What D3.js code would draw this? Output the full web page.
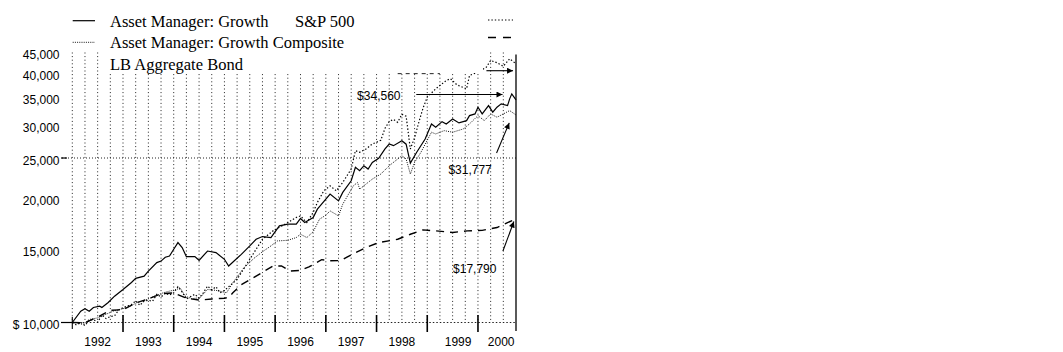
<!DOCTYPE html>
<html>
<head>
<meta charset="utf-8">
<script src="https://cdn.jsdelivr.net/npm/d3@7"></script>
<style>
  body { margin: 0; background: #fff; }
  text { fill: #000; }
</style>
</head>
<body>
<script>
// months counted from the start (Dec 1991 = 0) and value of $10,000
const growth = [[0,10000],[2,10650],[3,10800],[4,10650],[5,10870],[6.5,10950],[7,10870],[8.5,11180],[10,11580],[12,12020],[14,12500],[15,12790],[17,12950],[18,13320],[20,13960],[21,14080],[22,14380],[23,14480],[24,15040],[25,15610],[26,15180],[27,14430],[29,14430],[30,14140],[32,14890],[34,14760],[36,14220],[37,13700],[40,14620],[42,15320],[43.5,15900],[45,16140],[47,16050],[49,17130],[51,17290],[53,17290],[54,17850],[55,17450],[57,17950],[58,18800],[60,19880],[61,20450],[63,19690],[64,20640],[66,22020],[67,23730],[68,23290],[69,23950],[70,23510],[71,24400],[72.5,24960],[74,26290],[75,27030],[76,26780],[78,27530],[79,27000],[80,24300],[81.5,25810],[83.5,27800],[85,30230],[86,29680],[87.5,30620],[88.5,30230],[90,31080],[91.5,30400],[93.3,30790],[94,31660],[95.3,31960],[96,33180],[97,31960],[98.5,33480],[99.5,32270],[100.5,33180],[101.5,33800],[103,33480],[103.5,34760],[104,35740],[105,34560]];
const composite = [[0,10000],[1,9980],[2.5,9890],[4,10170],[6,10260],[7.3,10400],[9.7,10650],[12,10800],[13.7,10950],[15.2,11160],[17.6,11370],[20,11630],[21.5,11800],[23,11910],[24.7,12020],[25.5,12140],[26.7,11580],[28.3,11420],[30.2,11480],[32,12020],[34,11960],[36.5,11800],[38,12480],[40.5,13520],[43,14300],[45,14830],[47,15320],[48.5,15750],[51,15810],[53,16050],[54,16350],[55.5,16050],[57,16580],[58.5,17780],[60,18180],[61,18620],[63,18110],[64,19330],[66.5,21410],[67.5,21820],[68,21020],[69.5,21620],[71,22230],[73,22860],[75,23950],[77,24860],[78,25320],[79,24860],[80,22860],[81,24400],[82.5,25810],[85,28860],[86,28590],[88,29120],[90,28860],[92.5,29390],[94,30230],[96,31660],[97.5,30790],[99,31960],[100.5,31380],[102,31960],[103.5,32560],[105,31777]];
const sp500 = [[0,10000],[1,9860],[2,10010],[3,9830],[4,10120],[5,10170],[6,10020],[7,10430],[8,10220],[9,10340],[10,10380],[11,10730],[12,10860],[14,11050],[15,11280],[16,11000],[17,11270],[18,11320],[19,11260],[20,11700],[21,11530],[22,11780],[23,11650],[24,11800],[25,12200],[26,11850],[27,11400],[28,11550],[29,11700],[30,11450],[31,11800],[32,12250],[33,12000],[34,12200],[35,11800],[36,11950],[39,12720],[41,13700],[43,14760],[45,15900],[47.5,16660],[51,17450],[53,17950],[54,18110],[55.5,17450],[57,18460],[58,19520],[59.5,20820],[61,21410],[62.5,20820],[64,21820],[66,23510],[67,26040],[68,25810],[69.5,26290],[71,27030],[72,27290],[73,27600],[74,29500],[75,30640],[76,31000],[77,30500],[78,31900],[79,31550],[80,26290],[81,28000],[82,30500],[83,33000],[84,35100],[86,36760],[88.5,38500],[89.5,38890],[91,37590],[93.3,36760],[94,39590],[96,40350],[98,41490],[99,43050],[100.5,42500],[102,41680],[103.5,43460],[105,42260]];
const bond = [[0,10000],[3,9990],[6,10300],[9,10700],[12,10740],[15,11150],[18,11400],[21,11740],[24,11790],[27,11450],[30,11330],[33,11400],[36,11450],[37,11500],[38,11800],[40,12350],[43,12860],[45.5,13320],[47.5,13700],[49.5,13700],[51.5,13320],[54,13370],[56,13630],[59,14190],[61,14100],[63.5,14120],[65,14400],[67,14760],[69.5,15180],[72.5,15610],[77,15900],[80,16350],[83,16750],[86,16660],[90,16510],[93.5,16660],[97,16710],[100.5,16970],[103,17450],[105,17790]];

// axes
const yTicks = [10000, 15000, 20000, 25000, 30000, 35000, 40000, 45000];
const years = ['1992','1993','1994','1995','1996','1997','1998','1999','2000'];
const yearLabelAt = [6, 18, 30, 42, 54, 66, 78, 91.3, 101.5];
const yearEnds = [0, 12, 24, 36, 48, 60, 72, 84, 96];
const lastMonth = 105;

// callouts: [text, text month, text value, arrow from [m,v], arrow to [m,v]]
const callouts = [
  ['$34,560', 67.4, 35300, [81.4, 35600], [101.8, 35600]],
  ['', 0, 0, [98, 40660], [104.3, 40660]],
  ['$31,777', 89, 23390, [100.4, 25710], [103.4, 30400]],
  ['$17,790', 90.1, 13470, [101.9, 14890], [104.5, 17550]]
];

const svg = d3.select('body')
  .append('svg')
  .attr('width', 1063)
  .attr('height', 352);

svg.append('rect').attr('width', 1063).attr('height', 352).attr('fill', '#fff');

const x = d3.scaleLinear().domain([0, lastMonth]).range([72.3, 516]);
const y = d3.scaleLog().domain([10000, 45000]).range([322.5, 52.5]);

const sans = 'Liberation Sans, Arial, sans-serif';
const serif = 'Liberation Serif, Times New Roman, serif';

// quarterly dotted grid
svg.append('g')
  .selectAll('line')
  .data(d3.range(0, lastMonth, 3))
  .join('line')
    .attr('x1', d => x(d)).attr('x2', d => x(d))
    .attr('y1', y(45000)).attr('y2', y(10000))
    .attr('stroke', '#222')
    .attr('stroke-width', 1)
    .attr('stroke-dasharray', '1,2.6');

// horizontal grid at 25,000, base line and piece at 40,000
svg.append('line')
  .attr('x1', 62).attr('x2', x(lastMonth))
  .attr('y1', y(25000)).attr('y2', y(25000))
  .attr('stroke', '#222').attr('stroke-dasharray', '1,2');
svg.append('line')
  .attr('x1', x(0)).attr('x2', x(lastMonth))
  .attr('y1', y(10000)).attr('y2', y(10000))
  .attr('stroke', '#222').attr('stroke-dasharray', '1.5,2');
svg.append('line')
  .attr('x1', x(77)).attr('x2', x(87))
  .attr('y1', y(40000)).attr('y2', y(40000))
  .attr('stroke', '#222').attr('stroke-dasharray', '4,4');

// little solid ticks left of the axis
[10000, 25000].forEach(v => {
  svg.append('line')
    .attr('x1', 61).attr('x2', v === 10000 ? x(0) : 67)
    .attr('y1', y(v)).attr('y2', y(v))
    .attr('stroke', '#000').attr('stroke-width', 1.2);
});

// year ticks on the base line
svg.append('g')
  .selectAll('line')
  .data(yearEnds)
  .join('line')
    .attr('x1', d => x(d)).attr('x2', d => x(d))
    .attr('y1', d => d === 0 ? 317 : 315)
    .attr('y2', d => d === 0 ? 329 : 332)
    .attr('stroke', '#000')
    .attr('stroke-width', d => d === 0 ? 1.1 : 1.6);

// right frame line
svg.append('line')
  .attr('x1', x(lastMonth)).attr('x2', x(lastMonth))
  .attr('y1', y(45000) + 2).attr('y2', 331)
  .attr('stroke', '#000').attr('stroke-width', 1.3);

// y labels
svg.append('g')
  .selectAll('text')
  .data(yTicks)
  .join('text')
    .attr('x', 59.5)
    .attr('y', d => y(d) + 6.5)
    .attr('text-anchor', 'end')
    .attr('font-family', sans)
    .attr('font-size', 12)
    .text(d => (d === 10000 ? '$ ' : '') + d3.format(',')(d));

// year labels
svg.append('g')
  .selectAll('text')
  .data(years)
  .join('text')
    .attr('x', (d, i) => x(yearLabelAt[i]))
    .attr('y', 345.5)
    .attr('text-anchor', 'middle')
    .attr('font-family', sans)
    .attr('font-size', 12)
    .text(d => d);

// series
const line = d3.line().x(d => x(d[0])).y(d => y(d[1]));
const series = [
  { data: bond, dash: '8,6', width: 1.4, color: '#000' },
  { data: composite, dash: '1,1.2', width: 1, color: '#111' },
  { data: sp500, dash: '1.4,2', width: 1.2, color: '#000' },
  { data: growth, dash: null, width: 1.2, color: '#000' }
];
svg.append('g')
  .selectAll('path')
  .data(series)
  .join('path')
    .attr('d', d => line(d.data))
    .attr('fill', 'none')
    .attr('stroke', d => d.color)
    .attr('stroke-width', d => d.width)
    .attr('stroke-dasharray', d => d.dash);

// legend, with white box hiding the grid under it
svg.append('rect')
  .attr('x', 100).attr('y', 0).attr('width', 383).attr('height', 73)
  .attr('fill', '#fff');

const legendRows = [
  { text: 'Asset Manager: Growth', tx: 110, ty: 26.5 },
  { text: 'S&P 500', tx: 295, ty: 26.5 },
  { text: 'Asset Manager: Growth Composite', tx: 110, ty: 48 },
  { text: 'LB Aggregate Bond', tx: 110, ty: 69.5 }
];
svg.append('g')
  .selectAll('text')
  .data(legendRows)
  .join('text')
    .attr('x', d => d.tx)
    .attr('y', d => d.ty)
    .attr('font-family', serif)
    .attr('font-size', 16.5)
    .text(d => d.text);

const swatches = [
  { x1: 72.7, x2: 95, yy: 20.7, dash: null, width: 1.2, color: '#000' },
  { x1: 72.7, x2: 95, yy: 42.3, dash: '1,1.2', width: 1, color: '#111' },
  { x1: 488, x2: 513, yy: 20, dash: '1.4,2', width: 1.2, color: '#000' },
  { x1: 488, x2: 513, yy: 37.5, dash: '8,7', width: 1.4, color: '#000' }
];
svg.append('g')
  .selectAll('line')
  .data(swatches)
  .join('line')
    .attr('x1', d => d.x1).attr('x2', d => d.x2)
    .attr('y1', d => d.yy).attr('y2', d => d.yy)
    .attr('stroke', d => d.color)
    .attr('stroke-width', d => d.width)
    .attr('stroke-dasharray', d => d.dash);

// arrow head
svg.append('defs').append('marker')
  .attr('id', 'fleche')
  .attr('viewBox', '0 0 10 10')
  .attr('refX', 10).attr('refY', 5)
  .attr('markerWidth', 10).attr('markerHeight', 6)
  .attr('markerUnits', 'userSpaceOnUse')
  .attr('orient', 'auto')
  .append('path')
    .attr('d', 'M0,0L10,5L0,10z')
    .attr('fill', '#000');

// callouts
callouts.forEach(([label, tm, tv, from, to]) => {
  svg.append('line')
    .attr('x1', x(from[0])).attr('y1', y(from[1]))
    .attr('x2', x(to[0])).attr('y2', y(to[1]))
    .attr('stroke', '#000').attr('stroke-width', 1.1)
    .attr('marker-end', 'url(#fleche)');
  if (label) {
    svg.append('text')
      .attr('x', x(tm))
      .attr('y', y(tv) + 4.3)
      .attr('font-family', sans)
      .attr('font-size', 12)
      .text(label);
  }
});
</script>
</body>
</html>
